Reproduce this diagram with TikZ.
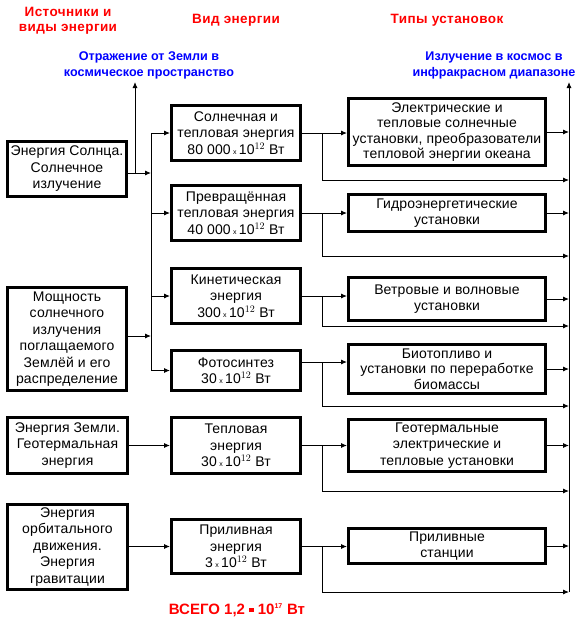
\documentclass[tikz,border=0pt]{standalone}
\usepackage{fontspec}
\setmainfont{Liberation Sans}
\newfontfamily\boxfont[LetterSpace=1]{Liberation Sans}
\newfontfamily\hdrfont[LetterSpace=3]{Liberation Sans}
\usetikzlibrary{arrows.meta}
\begin{document}
\begin{tikzpicture}[x=1pt,y=-1pt,
  box/.style={draw, line width=3pt, inner sep=0pt, align=center,
    font=\boxfont\fontsize{14}{16.5}\selectfont},
  tight/.style={font=\boxfont\fontsize{14}{15.3}\selectfont},
  hdr/.style={text=red, align=center, font=\hdrfont\fontsize{13.5}{15.5}\selectfont\bfseries},
  blu/.style={text=blue, align=center, font=\fontsize{12.6}{16}\selectfont\bfseries},
  arr/.style={line width=0.9pt, -{Latex[length=6pt,width=5pt]}},
  ln/.style={line width=0.9pt}]
\useasboundingbox (0,0) rectangle (579,619);
\newcommand{\pw}[1]{\,{\scriptsize x}\,10$^{\tiny #1}$\ Вт}
% headers
\node[hdr] (h1) at (68,21) {Источники и\\виды энергии};
\node[hdr] (h2) at (236,20) {Вид энергии};
\node[hdr] (h3) at (447,20) {Типы установок};
\node[blu] (t1) at (149,65) {Отражение от Земли в\\космическое пространство};
\node[blu] (t2) at (494,65) {Излучение в космос в\\инфракрасном диапазоне};
% left boxes
\node[box, minimum width=119, minimum height=55] (L1) at (67,169) {Энергия Солнца.\\Солнечное\\излучение};
\node[box, minimum width=119, minimum height=103] (L2) at (67,339) {Мощность\\солнечного\\излучения\\поглащаемого\\Землёй и его\\распределение};
\node[box, minimum width=120, minimum height=56] (L3) at (67.5,445.5) {Энергия Земли.\\Геотермальная\\энергия};
\node[box, minimum width=120, minimum height=85] (L4) at (67.5,547) {Энергия\\орбитального\\движения.\\Энергия\\гравитации};
% middle boxes
\node[box, minimum width=129, minimum height=55] (M1) at (236,133) {Солнечная и\\тепловая энергия\\80 000\pw{12}};
\node[box, minimum width=129, minimum height=55] (M2) at (236,213) {Превращённая\\тепловая энергия\\40 000\pw{12}};
\node[box, minimum width=129, minimum height=55] (M3) at (236,296) {Кинетическая\\энергия\\300\pw{12}};
\node[box, minimum width=129, minimum height=40] (M4) at (236,370.5) {Фотосинтез\\30\pw{12}};
\node[box, minimum width=129, minimum height=56] (M5) at (236,445.5) {Тепловая\\энергия\\30\pw{12}};
\node[box, minimum width=129, minimum height=54] (M6) at (236,546.5) {Приливная\\энергия\\3\pw{12}};
% right boxes
\node[box, tight, minimum width=197, minimum height=67] (R1) at (447,132) {Электрические и\\тепловые солнечные\\установки, преобразователи\\тепловой энергии океана};
\node[box, tight, minimum width=197, minimum height=37] (R2) at (447,213) {Гидроэнергетические\\установки};
\node[box, minimum width=197, minimum height=43] (R3) at (447,299) {Ветровые и волновые\\установки};
\node[box, tight, minimum width=197, minimum height=49] (R4) at (447,369) {Биотопливо и\\установки по переработке\\биомассы};
\node[box, minimum width=197, minimum height=52] (R5) at (447,445.5) {Геотермальные\\электрические и\\тепловые установки};
\node[box, minimum width=197, minimum height=35] (R6) at (447,546) {Приливные\\станции};
% total
\node[text=red, font=\fontsize{15}{17}\selectfont\bfseries] (tot) at (237,610)
  {ВСЕГО 1,2 \raisebox{0.25ex}{\rule{4.5pt}{4.5pt}} 10$^{\textbf{\scriptsize 17}}$ Вт};
% coordinates
\coordinate (lb) at (151,0);
\coordinate (rfx) at (135,0);
\coordinate (rtop) at (135,82);
\coordinate (l1y) at (0,173);
\coordinate (l2y) at (0,336);
\coordinate (lbtop) at (151,134);
\coordinate (lbbot) at (151,370);
\coordinate (bx) at (322,0);
\coordinate (rb) at (569,0);
\coordinate (rbtop) at (569,82);
\coordinate (rbbot) at (569,592);
\coordinate (m4y) at (0,362);
\coordinate (b1) at (569,180);
\coordinate (b2) at (569,256);
\coordinate (b3) at (569,326);
\coordinate (b4) at (569,406);
\coordinate (b5) at (569,491);
\coordinate (b6) at (569,592);
% left connectors
\draw[arr] (L1.east |- l1y) -- (lb |- l1y);
\draw[arr] (rfx |- l1y) -- (rtop);
\draw[arr] (L2.east |- l2y) -- (lb |- l2y);
\draw[ln] (lbtop) -- (lbbot);
\draw[arr] (lb |- M1.west) -- (M1.west);
\draw[arr] (lb |- M2.west) -- (M2.west);
\draw[arr] (lb |- M3.west) -- (M3.west);
\draw[arr] (lb |- M4.west) -- (M4.west);
\draw[arr] (L3.east |- M5.west) -- (M5.west);
\draw[arr] (L4.east |- M6.west) -- (M6.west);
% middle to right
\draw[arr] (M1.east) -- (R1.west |- M1.east);
\draw[arr] (M2.east) -- (R2.west |- M2.east);
\draw[arr] (M3.east) -- (R3.west |- M3.east);
\draw[arr] (M4.east |- m4y) -- (R4.west |- m4y);
\draw[arr] (M5.east) -- (R5.west |- M5.east);
\draw[arr] (M6.east) -- (R6.west |- M6.east);
% bypass lines
\draw[arr] (bx |- M1.east) |- (b1);
\draw[arr] (bx |- M2.east) |- (b2);
\draw[arr] (bx |- M3.east) |- (b3);
\draw[arr] (bx |- m4y) |- (b4);
\draw[arr] (bx |- M5.east) |- (b5);
\draw[arr] (bx |- M6.east) |- (b6);
% right to bus
\draw[arr] (R1.east) -- (rb |- R1.east);
\draw[arr] (R2.east) -- (rb |- R2.east);
\draw[arr] (R3.east) -- (rb |- R3.east);
\draw[arr] (R4.east) -- (rb |- R4.east);
\draw[arr] (R5.east) -- (rb |- R5.east);
\draw[arr] (R6.east) -- (rb |- R6.east);
\draw[arr] (rbbot) -- (rbtop);
\end{tikzpicture}
\end{document}
